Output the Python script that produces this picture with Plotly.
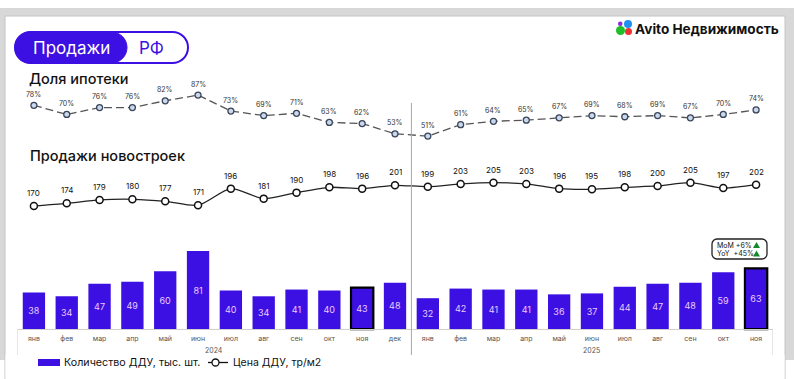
import plotly.graph_objects as go

W, H = 794, 379

# ---------------- data ----------------
months_2024 = ["янв", "фев", "мар", "апр", "май", "июн", "июл", "авг", "сен", "окт", "ноя", "дек"]
months_2025 = ["янв", "фев", "мар", "апр", "май", "июн", "июл", "авг", "сен", "окт", "ноя"]
years = ["2024", "2025"]
ddu_count = [38, 34, 47, 49, 60, 81, 40, 34, 41, 40, 43, 48,
             32, 42, 41, 41, 36, 37, 44, 47, 48, 59, 63]
ddu_price = [170, 174, 179, 180, 177, 171, 196, 181, 190, 198, 196, 201,
             199, 203, 205, 203, 196, 195, 198, 200, 205, 197, 202]
mortgage_share = [78, 70, 76, 76, 82, 87, 73, 69, 71, 63, 62, 53,
                  51, 61, 64, 65, 67, 69, 68, 69, 67, 70, 74]
highlight_months = [10, 22]  # ноя 2024, ноя 2025
mom_text = "MoM +6%"
yoy_text = "YoY  +45%"

month_labels = months_2024 + months_2025
idx = list(range(len(month_labels)))

PURPLE = "#3c10e2"
FONT = "Inter"


def px(x):
    return x / W


def py(y):
    return 1 - y / H


def rrect(x0, y0, x1, y1, r):
    k = 0.5523 * r
    pts = []
    pts.append(("M", [(x0 + r, y0)]))
    pts.append(("L", [(x1 - r, y0)]))
    pts.append(("C", [(x1 - r + k, y0), (x1, y0 + r - k), (x1, y0 + r)]))
    pts.append(("L", [(x1, y1 - r)]))
    pts.append(("C", [(x1, y1 - r + k), (x1 - r + k, y1), (x1 - r, y1)]))
    pts.append(("L", [(x0 + r, y1)]))
    pts.append(("C", [(x0 + r - k, y1), (x0, y1 - r + k), (x0, y1 - r)]))
    pts.append(("L", [(x0, y0 + r)]))
    pts.append(("C", [(x0, y0 + r - k), (x0 + r - k, y0), (x0 + r, y0)]))
    s = ""
    for cmd, ps in pts:
        s += cmd + " ".join(f"{px(a):.5f},{py(b):.5f}" for a, b in ps) + " "
    return s + "Z"


def tri(cx, ytop, w, h):
    return (f"M{px(cx):.5f},{py(ytop):.5f} L{px(cx + w / 2):.5f},{py(ytop + h):.5f} "
            f"L{px(cx - w / 2):.5f},{py(ytop + h):.5f} Z")


def label(xp, yp, text, size, color="#111111", xanchor="left", weight=None):
    f = dict(size=size, color=color, family=FONT)
    if weight:
        f["weight"] = weight
    return dict(x=px(xp), y=py(yp), xref="paper", yref="paper", text=text, showarrow=False,
                xanchor=xanchor, yanchor="middle", font=f)


fig = go.Figure()

# bars
fig.add_trace(go.Bar(
    x=idx, y=ddu_count, width=0.68,
    marker=dict(color=PURPLE,
                line=dict(color=["#000000" if i in highlight_months else PURPLE for i in idx],
                          width=[2.2 if i in highlight_months else 0 for i in idx])),
    text=ddu_count, texttemplate="%{text}", textposition="inside",
    insidetextanchor="middle", textangle=0,
    textfont=dict(color="#eccbff", size=9, family=FONT),
    yaxis="y", showlegend=False, hoverinfo="skip",
))

# mortgage share line
fig.add_trace(go.Scatter(
    x=idx, y=mortgage_share, mode="lines+markers",
    line=dict(color="#555555", width=1.3, dash="8px,4px"),
    marker=dict(size=6, color="#c8d8ef", line=dict(color="#3c4658", width=1.3)),
    yaxis="y2", showlegend=False, hoverinfo="skip",
))

# price line
fig.add_trace(go.Scatter(
    x=idx, y=ddu_price, mode="lines+markers",
    line=dict(color="#222222", width=1.3, shape="spline", smoothing=0.7),
    marker=dict(size=7, color="white", line=dict(color="#111111", width=1.5)),
    yaxis="y3", showlegend=False, hoverinfo="skip",
))

annotations = []
for i, v in zip(idx, mortgage_share):
    annotations.append(dict(x=i, y=v, xref="x", yref="y2", text=f"{v}%", showarrow=False,
                            xanchor="center", yanchor="middle",
                            yshift=11, font=dict(size=7, color="#333333", family=FONT)))
for i, v in zip(idx, ddu_price):
    annotations.append(dict(x=i, y=v, xref="x", yref="y3", text=f"{v}", showarrow=False,
                            xanchor="center", yanchor="middle",
                            yshift=13, font=dict(size=8, color="#111111", family=FONT)))

# year labels
annotations.append(dict(x=(len(months_2024) - 1) / 2, y=py(350), xref="x", yref="paper",
                        text=years[0], showarrow=False, xanchor="center", yanchor="middle",
                        font=dict(size=7, color="#555555", family=FONT)))
annotations.append(dict(x=len(months_2024) + (len(months_2025) - 1) / 2, y=py(350), xref="x",
                        yref="paper", text=years[1], showarrow=False,
                        xanchor="center", yanchor="middle",
                        font=dict(size=7, color="#555555", family=FONT)))

annotations += [
    label(71, 48, "Продажи", 17, "white", "center"),
    label(151, 48, "РФ", 17, PURPLE, "center"),
    label(27, 79, "Доля ипотеки", 14.5, "#111111", "left", 500),
    label(28, 155, "Продажи новостроек", 14.5, "#111111", "left", 500),
    label(633, 29, "<b>Avito Недвижимость</b>", 13.6),
    label(62, 362.5, "Количество ДДУ, тыс. шт.", 10.7),
    label(231, 362.5, "Цена ДДУ, тр/м2", 10.5),
    label(715, 245, mom_text, 7),
    label(715, 253.5, yoy_text, 7),
]

shapes = [
    # grey frame and white panel
    dict(type="rect", xref="paper", yref="paper", x0=0, x1=1, y0=py(360), y1=py(8),
         fillcolor="#d8d8d8", line=dict(width=0), layer="below"),
    dict(type="rect", xref="paper", yref="paper", x0=px(5), x1=px(785), y0=0, y1=py(16),
         fillcolor="white", line=dict(color="#c4c4c4", width=1), layer="below"),
    dict(type="rect", xref="paper", yref="paper", x0=px(5.5), x1=px(784.5), y0=0, y1=py(355),
         fillcolor="white", line=dict(width=0), layer="below"),
    # pill
    dict(type="path", xref="paper", yref="paper", path=rrect(15, 32, 188, 63, 15.5),
         fillcolor="white", line=dict(color=PURPLE, width=2), layer="below"),
    dict(type="path", xref="paper", yref="paper", path=rrect(15, 32, 127, 63, 15.5),
         fillcolor=PURPLE, line=dict(color=PURPLE, width=1), layer="below"),
    # logo dots
    dict(type="circle", xref="paper", yref="paper", x0=px(616), x1=px(625), y0=py(35), y1=py(26),
         fillcolor="#1fbf2a", line=dict(width=0)),
    dict(type="circle", xref="paper", yref="paper", x0=px(624), x1=px(632), y0=py(28), y1=py(20),
         fillcolor="#1f8ff0", line=dict(width=0)),
    dict(type="circle", xref="paper", yref="paper", x0=px(625), x1=px(632), y0=py(35), y1=py(28),
         fillcolor="#f03030", line=dict(width=0)),
    dict(type="circle", xref="paper", yref="paper", x0=px(618), x1=px(622.5), y0=py(26), y1=py(21.5),
         fillcolor="#8a2be2", line=dict(width=0)),
    # axis group boundary lines
    dict(type="line", xref="x", yref="paper", x0=-0.5, x1=-0.5, y0=py(355), y1=py(329),
         line=dict(color="#d0d0d0", width=1)),
    dict(type="line", xref="x", yref="paper", x0=len(idx) - 0.5, x1=len(idx) - 0.5,
         y0=py(355), y1=py(329), line=dict(color="#d0d0d0", width=1)),
    dict(type="line", xref="x", yref="paper", x0=len(months_2024) - 0.5,
         x1=len(months_2024) - 0.5, y0=py(355), y1=py(103),
         line=dict(color="#a8a8a8", width=1)),
    # MoM box
    dict(type="path", xref="paper", yref="paper", path=rrect(712, 239, 767, 259, 5),
         fillcolor="white", line=dict(color="#222222", width=1.3)),
    dict(type="path", xref="paper", yref="paper", path=tri(756.5, 242, 7, 6),
         fillcolor="#138a2c", line=dict(width=0)),
    dict(type="path", xref="paper", yref="paper", path=tri(756.5, 250.5, 7, 6),
         fillcolor="#138a2c", line=dict(width=0)),
    # legend symbols
    dict(type="rect", xref="paper", yref="paper", x0=px(38), x1=px(60), y0=py(366), y1=py(359),
         fillcolor=PURPLE, line=dict(width=0)),
    dict(type="line", xref="paper", yref="paper", x0=px(208), x1=px(228), y0=py(362.5),
         y1=py(362.5), line=dict(color="#111111", width=1.3)),
    dict(type="circle", xref="paper", yref="paper", x0=px(212), x1=px(219), y0=py(366), y1=py(359),
         fillcolor="white", line=dict(color="#111111", width=1.3)),
]

fig.update_layout(
    width=W, height=H, autosize=False,
    margin=dict(l=0, r=0, t=0, b=0),
    paper_bgcolor="white", plot_bgcolor="rgba(0,0,0,0)",
    font=dict(family=FONT),
    bargap=0.3,
    xaxis=dict(domain=[px(17.5), px(772.5)], range=[-0.5, len(idx) - 0.5],
               anchor="free", position=50 / H,
               tickmode="array", tickvals=idx, ticktext=month_labels,
               tickfont=dict(size=7, color="#555555", family=FONT),
               ticks="", ticklabelstandoff=3,
               showline=True, linecolor="#d0d0d0", linewidth=1,
               showgrid=False, zeroline=False, fixedrange=True),
    yaxis=dict(domain=[0, 1], range=[-51.9, 341.7], visible=False, fixedrange=True),
    yaxis2=dict(domain=[0, 1], overlaying="y", range=[-162.3, 170.5], visible=False),
    yaxis3=dict(domain=[0, 1], overlaying="y", range=[-89.8, 479.2], visible=False),
    annotations=annotations,
    shapes=shapes,
    showlegend=False,
)

fig.write_html("out.html", config={"displayModeBar": False, "staticPlot": True},
               post_script="document.body.style.margin='0';document.body.style.overflow='hidden';")
